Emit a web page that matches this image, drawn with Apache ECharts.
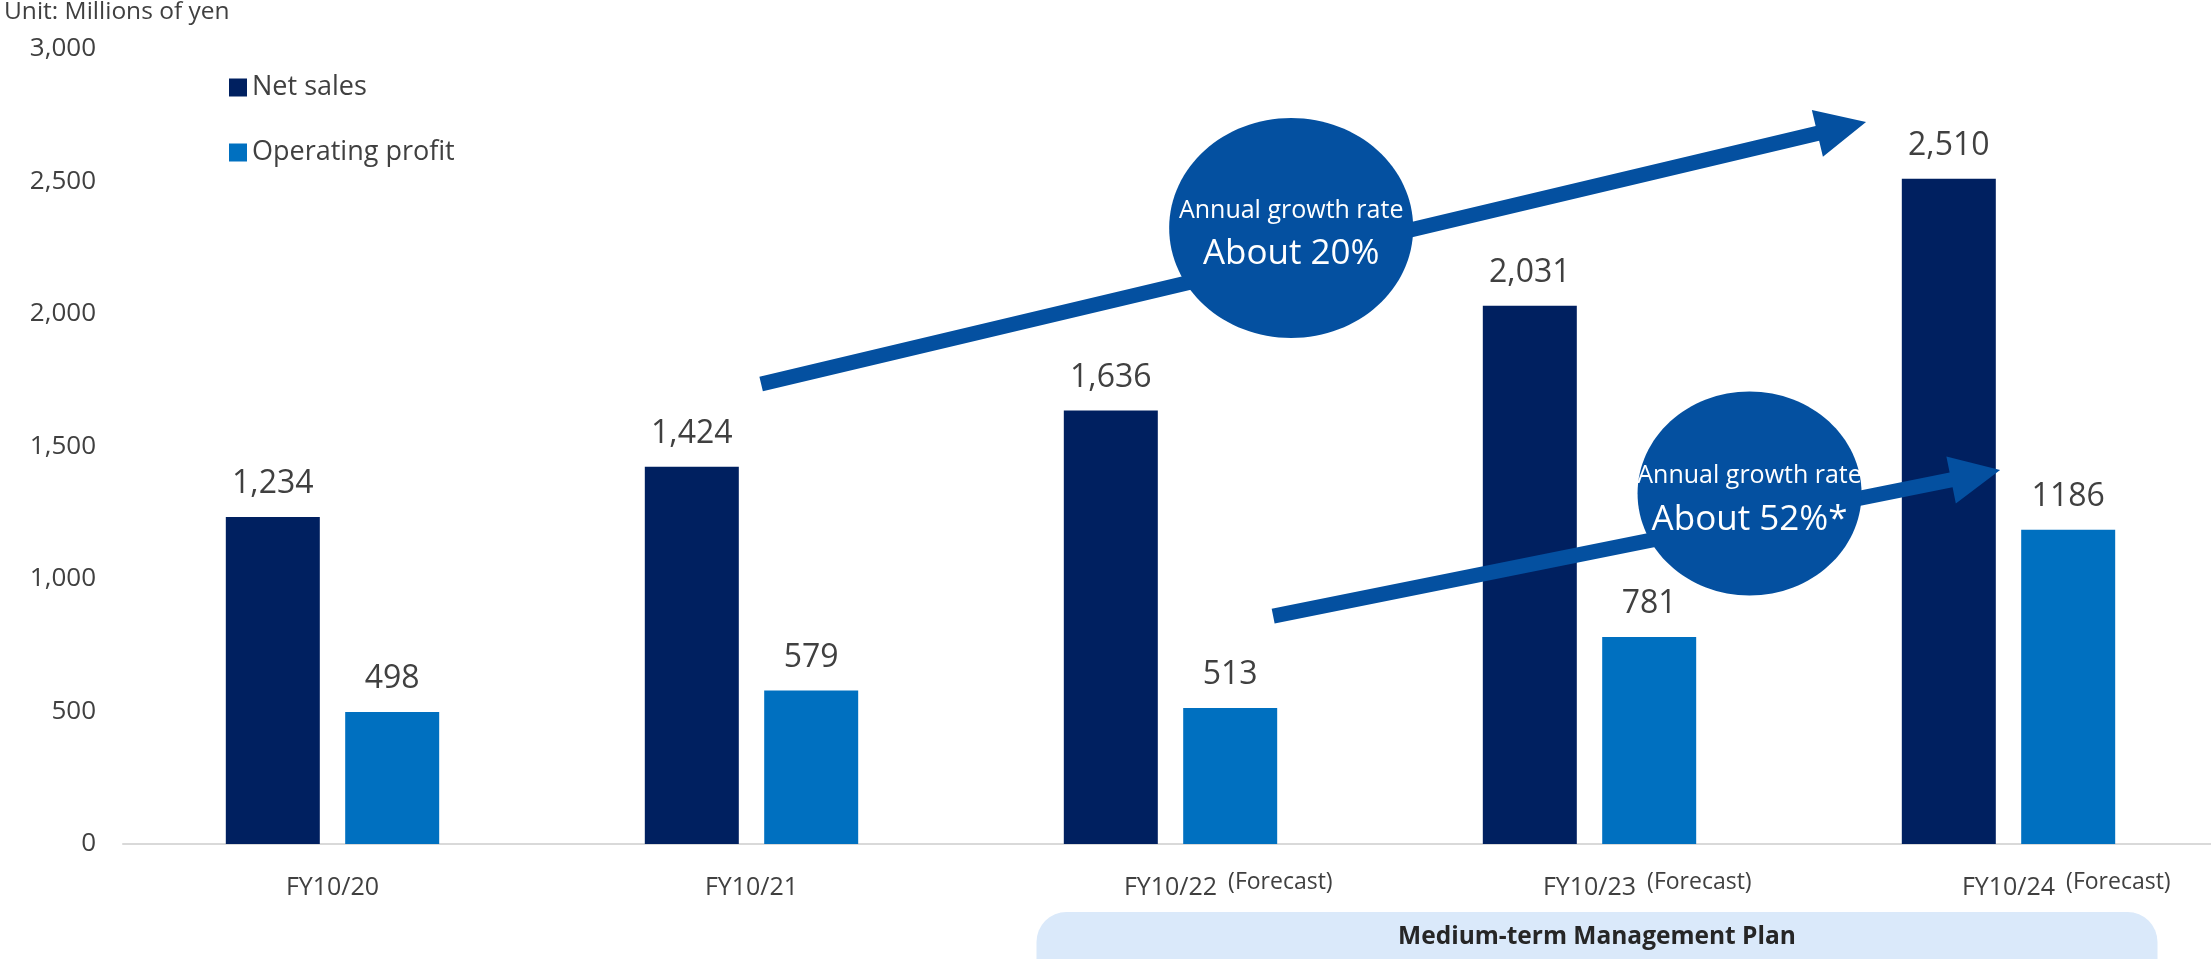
<!DOCTYPE html>
<html>
<head>
<meta charset="utf-8">
<title>Net sales and operating profit</title>
<script src="https://cdn.jsdelivr.net/npm/echarts@6/dist/echarts.min.js"></script>
<style>
  html, body { margin: 0; padding: 0; background: #ffffff; }
  #chart { width: 2211px; height: 959px; }
</style>
</head>
<body>
<div id="chart"></div>
<script>
// Fiscal years and their notes
const categories = ['FY10/20', 'FY10/21', 'FY10/22', 'FY10/23', 'FY10/24'];
const periodNotes = ['', '', '(Forecast)', '(Forecast)', '(Forecast)'];

// Values in millions of yen
const netSales = [1234, 1424, 1636, 2031, 2510];
const operatingProfit = [498, 579, 513, 781, 1186];

// Value axis ticks
const yMin = 0;
const yMax = 3000;
const yStep = 500;

// Growth callouts and footer texts
const salesGrowthText = ['Annual growth rate', 'About 20%'];
const profitGrowthText = ['Annual growth rate', 'About 52%*'];
const planLabel = 'Medium-term Management Plan';
const unitLabel = 'Unit: Millions of yen';

const FONT = '"Open Sans", "Noto Sans", sans-serif';
const TEXT = '#404040';
const NAVY = '#002060';
const BLUE = '#0070C0';
const CALLOUT = '#0450A0';

const fmt = v => echarts.format.addCommas(v);

// width of the note text so the year stays centred under its bars
const mctx = document.createElement('canvas').getContext('2d');
mctx.font = '23px "Open Sans"';
const noteGap = 11;
const noteWidth = mctx.measureText('(Forecast)').width;

const chart = echarts.init(document.getElementById('chart'), null, { renderer: 'canvas' });

chart.setOption({
  animation: false,
  backgroundColor: '#ffffff',
  textStyle: { fontFamily: FONT },
  grid: { left: 123, top: 49, width: 2095, height: 795, containLabel: false, outerBoundsMode: 'none' },
  legend: {
    orient: 'vertical',
    left: 224,
    top: 69,
    icon: 'rect',
    itemWidth: 18,
    itemHeight: 18,
    itemGap: 38,
    data: ['Net sales', 'Operating profit'],
    textStyle: { fontSize: 27, color: TEXT, fontFamily: FONT, padding: [0, 0, 0, 0] }
  },
  xAxis: {
    type: 'category',
    data: categories,
    axisTick: { show: false },
    axisLine: { lineStyle: { color: '#d9d9d9', width: 2 } },
    axisLabel: {
      margin: 22,
      color: TEXT,
      fontFamily: FONT,
      fontSize: 25,
      interval: 0,
      formatter: (value, idx) => periodNotes[idx]
        ? '{fy|' + value + '}{fc|' + periodNotes[idx] + '}'
        : '{fy0|' + value + '}',
      rich: {
        fy0: { fontSize: 25, color: TEXT, fontFamily: FONT, verticalAlign: 'bottom', lineHeight: 34 },
        fy: { fontSize: 25, color: TEXT, fontFamily: FONT, verticalAlign: 'bottom', lineHeight: 34,
              padding: [0, 0, 0, noteWidth + noteGap] },
        fc: { fontSize: 23, color: TEXT, fontFamily: FONT, verticalAlign: 'bottom', lineHeight: 34,
              padding: [0, 0, 6, noteGap] }
      }
    }
  },
  yAxis: {
    type: 'value',
    min: yMin,
    max: yMax,
    interval: yStep,
    splitLine: { show: false },
    axisLine: { show: false },
    axisTick: { show: false },
    axisLabel: { margin: 27, color: TEXT, fontSize: 26, fontFamily: FONT, formatter: v => fmt(v) }
  },
  series: [
    {
      name: 'Net sales',
      type: 'bar',
      data: netSales,
      barWidth: 94,
      barGap: '27%',
      itemStyle: { color: NAVY },
      label: { show: true, position: 'top', distance: 17, color: TEXT, fontSize: 32, fontFamily: FONT,
               formatter: p => fmt(p.value) }
    },
    {
      name: 'Operating profit',
      type: 'bar',
      data: operatingProfit,
      barWidth: 94,
      itemStyle: { color: BLUE },
      label: { show: true, position: 'top', distance: 17, color: TEXT, fontSize: 32, fontFamily: FONT,
               formatter: p => String(p.value) }
    }
  ]
});

// pixel helpers built on the chart's own axes
const c0 = chart.convertToPixel({ xAxisIndex: 0 }, 0);
const c1 = chart.convertToPixel({ xAxisIndex: 0 }, 1);
const xAt = f => c0 + f * (c1 - c0);
const yAt = v => chart.convertToPixel({ yAxisIndex: 0 }, v);
const pt = (f, v) => [xAt(f), yAt(v)];

function arrowPoints(p0, p1, shaft, headW, headL) {
  const dx = p1[0] - p0[0], dy = p1[1] - p0[1];
  const len = Math.hypot(dx, dy);
  const ux = dx / len, uy = dy / len;
  const nx = -uy, ny = ux;
  const bx = p1[0] - ux * headL, by = p1[1] - uy * headL;
  const s = shaft / 2, h = headW / 2;
  return [
    [p0[0] + nx * s, p0[1] + ny * s],
    [bx + nx * s, by + ny * s],
    [bx + nx * h, by + ny * h],
    [p1[0], p1[1]],
    [bx - nx * h, by - ny * h],
    [bx - nx * s, by - ny * s],
    [p0[0] - nx * s, p0[1] - ny * s]
  ];
}

function callout(center, rx, ry, lines, z) {
  return [
    { type: 'ellipse', z: z, shape: { cx: center[0], cy: center[1], rx: rx, ry: ry },
      style: { fill: CALLOUT } },
    { type: 'text', z: z + 1, x: center[0], y: center[1] - 5,
      style: { text: lines[0], fill: '#ffffff', font: '25px ' + FONT, align: 'center', verticalAlign: 'bottom' } },
    { type: 'text', z: z + 1, x: center[0], y: center[1] + 44,
      style: { text: lines[1], fill: '#ffffff', font: '35px ' + FONT, align: 'center', verticalAlign: 'bottom' } }
  ];
}

const salesArrow = arrowPoints(pt(1.023, 1736), pt(3.66, 2725), 15, 48, 50);
const profitArrow = arrowPoints(pt(2.245, 860), pt(3.98, 1411), 15, 48, 50);

const planLeft = xAt(2) - 134;
const planRight = xAt(4) + 149;
const planTop = yAt(0) + 68;

chart.setOption({
  graphic: [
    { type: 'text', x: 4, y: 0, z: 20,
      style: { text: unitLabel, fill: TEXT, font: '24.5px ' + FONT, align: 'left', verticalAlign: 'top' } },
    { type: 'polygon', z: 10, shape: { points: salesArrow }, style: { fill: CALLOUT } },
    { type: 'polygon', z: 10, shape: { points: profitArrow }, style: { fill: CALLOUT } },
    ...callout(pt(2.288, 2325), 122, 110, salesGrowthText, 12),
    ...callout(pt(3.382, 1323), 112, 102, profitGrowthText, 12),
    { type: 'rect', z: 5,
      shape: { x: planLeft, y: planTop, width: planRight - planLeft, height: 90, r: 30 },
      style: { fill: '#dae9fa' } },
    { type: 'text', z: 6, x: (planLeft + planRight) / 2, y: planTop + 25,
      style: { text: planLabel, fill: '#262626', font: 'bold 24.5px ' + FONT, align: 'center', verticalAlign: 'middle' } }
  ]
});
</script>
</body>
</html>
